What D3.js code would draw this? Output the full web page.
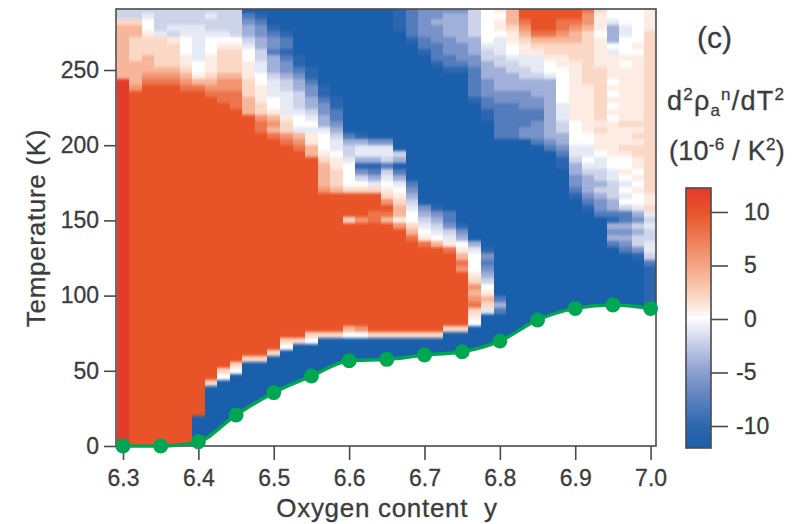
<!DOCTYPE html>
<html><head><meta charset="utf-8">
<style>html,body{margin:0;background:#fff}svg{display:block}text{font-family:"Liberation Sans",Arial,sans-serif;fill:#3c3c3c}</style>
<script src="https://cdn.jsdelivr.net/npm/d3@7"></script></head><body><div id="c"></div>
<script>
const xTicks=[6.3,6.4,6.5,6.6,6.7,6.8,6.9,7.0];
const yTicks=[0,50,100,150,200,250];
const cbTicks=[10,5,0,-5,-10];
const oxygen=[6.3,6.35,6.4,6.45,6.5,6.55,6.6,6.65,6.7,6.75,6.8,6.85,6.9,6.95,7.0];
const tc=[0,0,2.9,20.6,35.5,46.5,56.7,57.6,60.5,62.7,69.8,83.8,91.5,93.8,91.5];
const levelCodes="gfedcba01234567";
const levelValues=[-12,-10,-8,-6,-4,-2,-1,0,1,2,4,6,8,10,12];
const colorStops=[-12.3,-12,-10,-5,-2,0,2,5,10,12,12.3];
const colorRange=["#1a5fab","#1a5fab","#2c66b0","#8b9ecf","#cdd4ea","#ffffff","#fbd8c6","#f5a583","#e85427","#e43b2c","#e43b2c"];
// Each string is one column of the map (y = 6.3 + k/60), top row first; rows are 4 K tall from 292 K down.
// "c>n;" repeats c up to row n, and the last code carries to the bottom.
const mapColumns=[
"bb23>12;7",
"bb2332222333346",
"ba0012223334 56".replace(" ",""),
"bbbba222223456",
"bbbab122223456",
"bbbaa0001123456",
"bbbaaaaaa001356>68;g",
"babba00011123456>62;2g",
"bbbba012222344556>60;20g",
"bbbbb0122223445556>59;20g",
"gedccba001112223336>58;2g",
"gfeddccbbaa00111224556>58;2g",
"gggfeddecccbaaa00134356>57;2g",
"ggggfeefeddcbbaaaa122456>55;20g",
"g>8;ffedccbbba00a3456>55;2g",
"g>10;ffeddccba0a11336>54;20g",
"g>13;ffeddcca00012333346>54;2g",
"g>15;ffeedcbaa01122236>54;2g",
"g>21;ecbba000026>35;26>53;30g",
"g>21;fcaacfdb026>35;46>53;40g",
"g>22;daacfeca26>34;556>54;2g",
"g>22;daabeba01246536>54;2g",
"ffffg>24;bcgeca01233146>54;2g",
"eeeeefg>29;edcba002356>54;2g",
"dddddeefg>33;dcba0156>54;2g",
"ddcdddeeefg>33;fdcba036>54;2g",
"dccccdddeefg>34;eedba156>53;2g",
"dcccccdddefg>36;fdc013546>53;2g",
"bbbbbcccddeeeeefg>39;ca000124345210g",
"000000abbcccdddeeffg>40;fdedcb0132ag",
"10110aaabbccccddeeeeeeg>48;eceg",
"33321100abbcccddeeeeeeg",
"66543211aabbccdddeeeddg",
"66665321aaabcccddeedddeg",
"66665322100ac>22;deg",
"6655432211000000aaabbccdeffg",
"6654332221>19;0000aabccddefg",
"54432>13;1>21;00aa0abcccdefg",
"21110111112>19;121110aabbcbcddeg",
"00accc0a1111010101011111100aabbbccefcdceg",
"000aa000101>19;2111210010a0a0beecdcdeg",
"0000001011>19;21212211010100acdbcbbdfg",
"11112>31;112ababbaabef"
];
const rowCount=73, rowStep=4, topT=292, colStep=1/60;

const W=796,H=524;
const x=d3.scaleLinear().domain([6.3,7.0]).range([123,650.6]);
const y=d3.scaleLinear().domain([0,250]).range([446,70]);
const frame={l:116,r:656,t:9,b:446};
const color=d3.scaleLinear().domain(colorStops).range(colorRange).clamp(true);
const cb=d3.scaleLinear().domain([10,-10]).range([212,426]);
const svg=d3.select("#c").append("svg").attr("width",W).attr("height",H);
const defs=svg.append("defs");
defs.append("clipPath").attr("id","fr").append("rect").attr("x",frame.l).attr("y",frame.t).attr("width",frame.r-frame.l).attr("height",frame.b-frame.t);
defs.append("filter").attr("id","soft").attr("x","-5%").attr("y","-5%").attr("width","110%").attr("height","110%")
 .attr("color-interpolation-filters","sRGB").append("feGaussianBlur").attr("stdDeviation","0.7 1.8");

function expand(s){let o="";for(let i=0;i<s.length;){if(s[i+1]===">"){const e=s.indexOf(";",i);const n=+s.slice(i+2,e);o+=s[i].repeat(Math.max(0,n-o.length));i=e+1;}else{o+=s[i];i++;}}
 return o.padEnd(rowCount,o[o.length-1]);}
const cells=[];
mapColumns.forEach((s,k)=>{const col=expand(s);for(let r=0;r<rowCount;r++){cells.push({k,r,v:levelValues[levelCodes.indexOf(col[r])]});}});
const gm=svg.append("g").attr("clip-path","url(#fr)");
const drawCells=g=>g.selectAll("rect").data(cells).join("rect")
 .attr("x",d=>x(6.3+(d.k-0.5)*colStep)).attr("width",x(6.3+colStep)-x(6.3)+0.6)
 .attr("y",d=>y(topT-d.r*rowStep)).attr("height",y(0)-y(rowStep)+0.6)
 .attr("fill",d=>color(d.v)).attr("shape-rendering","crispEdges");
gm.append("g").call(drawCells);
gm.append("g").attr("filter","url(#soft)").call(drawCells);
// white below the Tc curve
const under=[{o:x.invert(frame.l),t:tc[0]},...oxygen.map((o,i)=>({o,t:tc[i]})),{o:x.invert(frame.r),t:tc[tc.length-1]}];
gm.append("path").attr("d",d3.area().x(d=>x(d.o)).y0(frame.b+2).y1(d=>y(d.t)).curve(d3.curveMonotoneX)(under)).attr("fill","#fff");
// frame
svg.append("rect").attr("x",frame.l).attr("y",frame.t).attr("width",frame.r-frame.l).attr("height",frame.b-frame.t).attr("fill","none").attr("stroke","#4a4a4a").attr("stroke-width",1.6);
// axes
const ax=svg.append("g").attr("transform",`translate(0,${frame.b})`).call(d3.axisBottom(x).tickValues(xTicks).tickFormat(d3.format(".1f")).tickSize(14).tickPadding(10));
const ay=svg.append("g").attr("transform",`translate(${frame.l},0)`).call(d3.axisLeft(y).tickValues(yTicks).tickSize(12).tickPadding(5));
[ax,ay].forEach(g=>{g.select(".domain").remove();g.selectAll("line").attr("stroke","#4a4a4a").attr("stroke-width",1.6);g.selectAll("text").attr("font-size",23).attr("fill","#3c3c3c").attr("stroke","#3c3c3c").attr("stroke-width",0.3);});
// Tc line and markers
const pts=oxygen.map((o,i)=>({o,t:tc[i]}));
svg.append("path").attr("d",d3.line().x(d=>x(d.o)).y(d=>y(d.t)).curve(d3.curveMonotoneX)(pts)).attr("fill","none").attr("stroke","#00a651").attr("stroke-width",3.5);
svg.append("g").selectAll("circle").data(pts).join("circle").attr("cx",d=>x(d.o)).attr("cy",d=>y(d.t)).attr("r",7.5).attr("fill","#00a651");
// labels
const lab=s=>s.attr("stroke","#3c3c3c").attr("stroke-width",0.3);
svg.append("text").attr("transform","translate(45,228) rotate(-90)").attr("text-anchor","middle").attr("font-size",26).attr("letter-spacing",0.7).call(lab).text("Temperature (K)");
svg.append("text").attr("x",387).attr("y",517).attr("text-anchor","middle").attr("font-size",26).attr("letter-spacing",0.7).attr("xml:space","preserve").call(lab).text("Oxygen content  y");
svg.append("text").attr("x",697).attr("y",48).attr("font-size",30).call(lab).text("(c)");
function sup(t,parts){parts.forEach(p=>{const ts=t.append("tspan").text(p[0]);if(p[1]==="u")ts.attr("dy",-10).attr("font-size",17);else if(p[1]==="d")ts.attr("dy",6).attr("font-size",17);else if(p[1]==="bu")ts.attr("dy",-16).attr("font-size",17);else if(p[1])ts.attr("dy",p[1]);});}
const t1=svg.append("text").attr("x",667).attr("y",110).attr("font-size",27).attr("letter-spacing",1.2).call(lab);
sup(t1,[["d"],["2","u"],["ρ",10],["a","d"],["n","bu"],["/dT",10],["2","u"]]);
const t2=svg.append("text").attr("x",669).attr("y",160).attr("font-size",27).attr("letter-spacing",0.25).call(lab);
sup(t2,[["(10"],["-6","u"],[" / K",10],["2","u"],[")",10]]);
// color bar
const grad=defs.append("linearGradient").attr("id","cbg").attr("x1",0).attr("x2",0).attr("y1",0).attr("y2",1);
const barTop=188,barBot=448;
d3.range(0,1.0001,0.05).forEach(f=>{const v=cb.invert(barTop+f*(barBot-barTop));grad.append("stop").attr("offset",f).attr("stop-color",color(v));});
svg.append("rect").attr("x",686).attr("y",barTop).attr("width",25).attr("height",barBot-barTop).attr("fill","url(#cbg)").attr("stroke","#4a4a4a").attr("stroke-width",1.6);
const ac=svg.append("g").attr("transform","translate(711,0)").call(d3.axisRight(cb).tickValues(cbTicks).tickSize(17).tickPadding(0).tickFormat(d3.format("d")));
ac.select(".domain").remove();ac.selectAll("line").attr("stroke","#4a4a4a").attr("stroke-width",1.6);
ac.selectAll("text").attr("font-size",23).attr("fill","#3c3c3c").attr("stroke","#3c3c3c").attr("stroke-width",0.3).attr("text-anchor","start").attr("x",d=>d<0?25:33).text(d=>d);
</script></body></html>
